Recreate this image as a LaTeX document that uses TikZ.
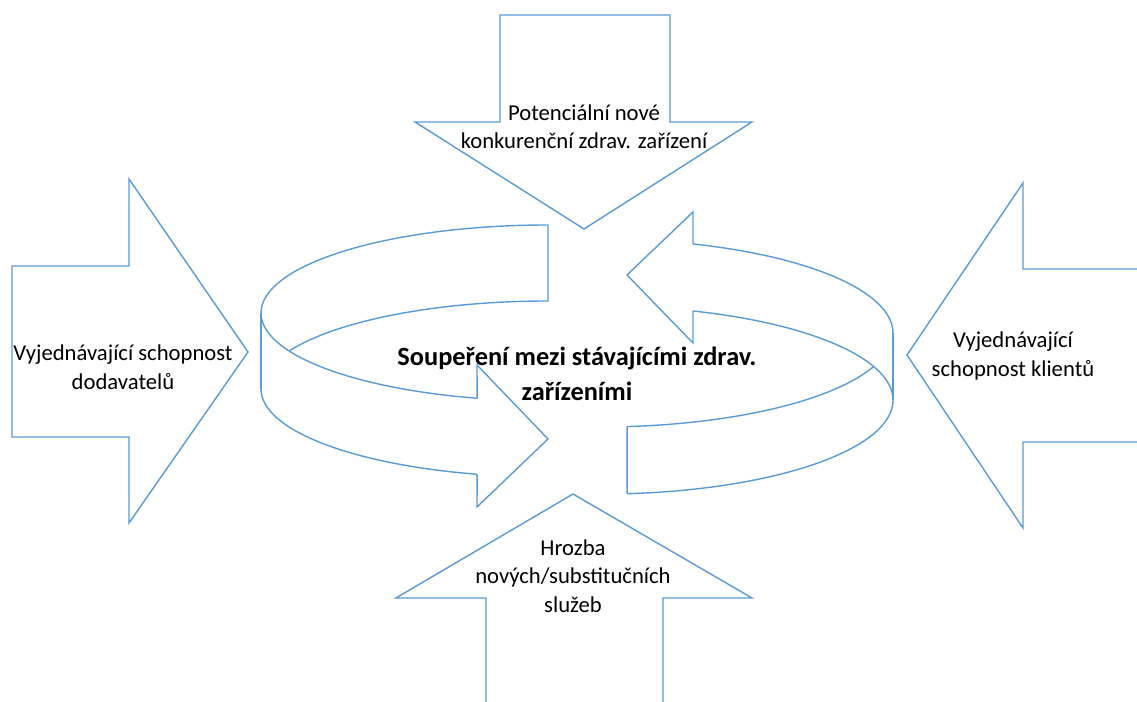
\documentclass[tikz,border=0pt]{standalone}
\usepackage{fontspec}
\setmainfont{Carlito}
\definecolor{shapeblue}{HTML}{5B9BD5}

\begin{document}
\begin{tikzpicture}[x=0.02cm, y=0.02cm]
    \tikzset{
        outline/.style={draw=shapeblue, line width=0.8pt, line join=miter},
        caption/.style={align=center, inner sep=0pt, font=\fontsize{12.9}{16.2}\selectfont},
        headline/.style={align=center, inner sep=0pt, font=\bfseries\fontsize{15}{20}\selectfont}
    }
    \useasboundingbox (0,0) rectangle (1137,702);

    % Define points of the block arrows
    \coordinate (newtip) at (584,473);
    \coordinate (supptip) at (248,350);
    \coordinate (clienttip) at (907,347);
    \coordinate (substtip) at (573,208);

    % Draw block arrows
    \draw[outline] (500,687) -- (670,687) -- (670,580) -- (752,580) -- (newtip)
        -- (415,580) -- (500,580) -- cycle;
    \draw[outline] (12,436) -- (129,436) -- (129,523) -- (supptip)
        -- (129,179) -- (129,265) -- (12,265) -- cycle;
    \draw[outline] (1137,433) -- (1023,433) -- (1023,519) -- (clienttip)
        -- (1023,174) -- (1023,260) -- (1137,260);
    \draw[outline] (486,0) -- (486,104) -- (396,104) -- (substtip)
        -- (752,104) -- (663,104) -- (663,0);

    % Left ring (back part, then front part with head)
    \draw[outline] (548,477) arc[start angle=90, end angle=180, x radius=287, y radius=88]
        coordinate (lside);
    \draw[outline] (548,477) -- (548,401)
        arc[start angle=90, end angle=154.4, x radius=287, y radius=88];
    \draw[outline] (lside) -- (261,313);
    \draw[outline] (lside) arc[start angle=180, end angle=255.7, x radius=287, y radius=88]
        coordinate (lheadtop);
    \draw[outline] (261,313) arc[start angle=180, end angle=255.7, x radius=287, y radius=88]
        coordinate (lheadbot);
    \coordinate (ltip) at (548,263);
    \draw[outline] (lheadtop) -- (477,337) -- (ltip) -- (477,195) -- (lheadbot);

    % Right ring (back part with head, then front part)
    \draw[outline] (693,458) arc[start angle=71.5, end angle=0, x radius=293, y radius=94]
        coordinate (rside);
    \draw[outline] (693,391) arc[start angle=71.5, end angle=0, x radius=293, y radius=94]
        coordinate (rsidebot);
    \draw[outline] (rside) -- (rsidebot);
    \draw[outline] (rsidebot) arc[start angle=0, end angle=-84.7, x radius=293, y radius=94]
        coordinate (rtailbot);
    \path (600,369) ++(-20.9:293 and 94) coordinate (rcross);
    \draw[outline] (rcross) arc[start angle=-20.9, end angle=-84.7, x radius=293, y radius=94]
        coordinate (rtailtop);
    \draw[outline] (rtailtop) -- (rtailbot);
    \coordinate (rtip) at (627,427);
    \draw[outline] (693,458) -- (693,490) -- (rtip) -- (693,359) -- (693,391);

    % Label arrows
    \node[caption] (newlabel) at (584,575) {Potenciální nové\\konkurenční zdrav. zařízení};
    \node[caption] (supplabel) at (123,335) {Vyjednávající schopnost\\dodavatelů};
    \node[caption] (clientlabel) at (1013,346) {Vyjednávající\\schopnost klientů};
    \node[caption] (substlabel) at (573,126) {Hrozba\\nových/substitučních\\služeb};
    \node[headline] (rivallabel) at (577,328) {Soupeření mezi stávajícími zdrav.\\zařízeními};
\end{tikzpicture}
\end{document}
